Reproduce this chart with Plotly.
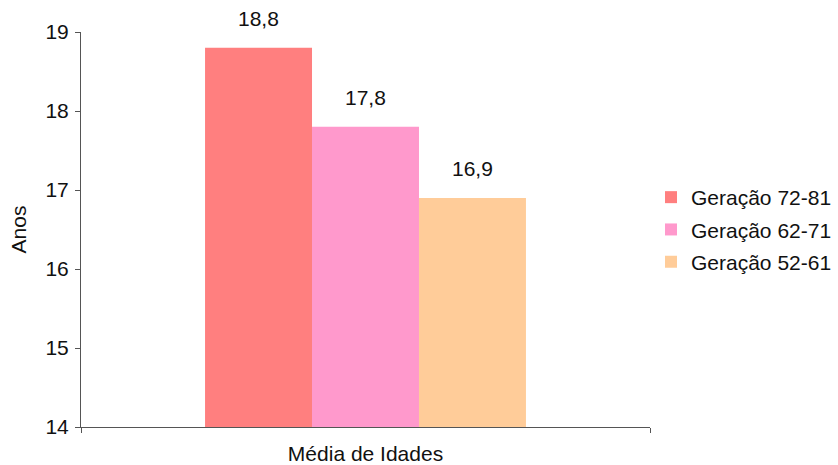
import plotly.graph_objects as go

categories = ["Média de Idades"]
series_names = ["Geração 72-81", "Geração 62-71", "Geração 52-61"]
series_values = [[18.8], [17.8], [16.9]]
colors = ["#FF7F7F", "#FF99CC", "#FFCC99"]
y_ticks = [14, 15, 16, 17, 18, 19]

FONT = "Liberation Sans, Arial, sans-serif"
FS = 21

W, H = 838, 465
ML, MT, MB = 81, 32, 38
PLOT_RIGHT = 650
LEGEND_LEFT = 651

fig = go.Figure()
for name, vals, col in zip(series_names, series_values, colors):
    fig.add_trace(go.Bar(
        x=categories, y=vals, name=name, legendgroup=name,
        marker=dict(color=col, line=dict(width=0)),
    ))

# value labels above each bar
n = len(series_names)
for i, vals in enumerate(series_values):
    for v in vals:
        fig.add_annotation(
            x=categories[0], y=v, xref="x", yref="y",
            text=f"{v:.1f}".replace(".", ","),
            showarrow=False, yanchor="middle", yshift=29,
            xshift=(i - (n - 1) / 2) * 107,
            font=dict(family=FONT, size=FS, color="#111"),
        )

paper_w = W - ML
fig.update_layout(
    width=W, height=H,
    margin=dict(l=ML, r=0, t=MT, b=MB),
    paper_bgcolor="white", plot_bgcolor="white",
    barmode="group", bargap=0.436, bargroupgap=0,
    font=dict(family=FONT, size=FS, color="#111"),
    showlegend=True,
    legend=dict(
        x=(LEGEND_LEFT - ML) / paper_w, y=0.5, xanchor="left", yanchor="middle",
        font=dict(family=FONT, size=FS, color="#111"),
        itemwidth=30, tracegroupgap=2,
    ),
    separators=",.",
)
fig.update_yaxes(
    range=[14, 19], tickvals=y_ticks, showgrid=False, automargin=False,
    showline=True, linecolor="#555", linewidth=1,
    ticks="outside", ticklen=5, tickcolor="#555",
    tickfont=dict(family=FONT, size=FS, color="#111"),
    ticklabelstandoff=2,
    title=dict(text="Anos", font=dict(family=FONT, size=FS, color="#111"), standoff=13),
    zeroline=False,
)
fig.update_xaxes(
    domain=[0, (PLOT_RIGHT - ML) / paper_w],
    showline=True, linecolor="#555", linewidth=1, automargin=False,
    ticks="outside", ticklen=5, tickcolor="#555", tickson="boundaries",
    tickfont=dict(family=FONT, size=FS, color="#111"),
    ticklabelstandoff=8,
    showgrid=False,
)

fig.write_html("out.html")
